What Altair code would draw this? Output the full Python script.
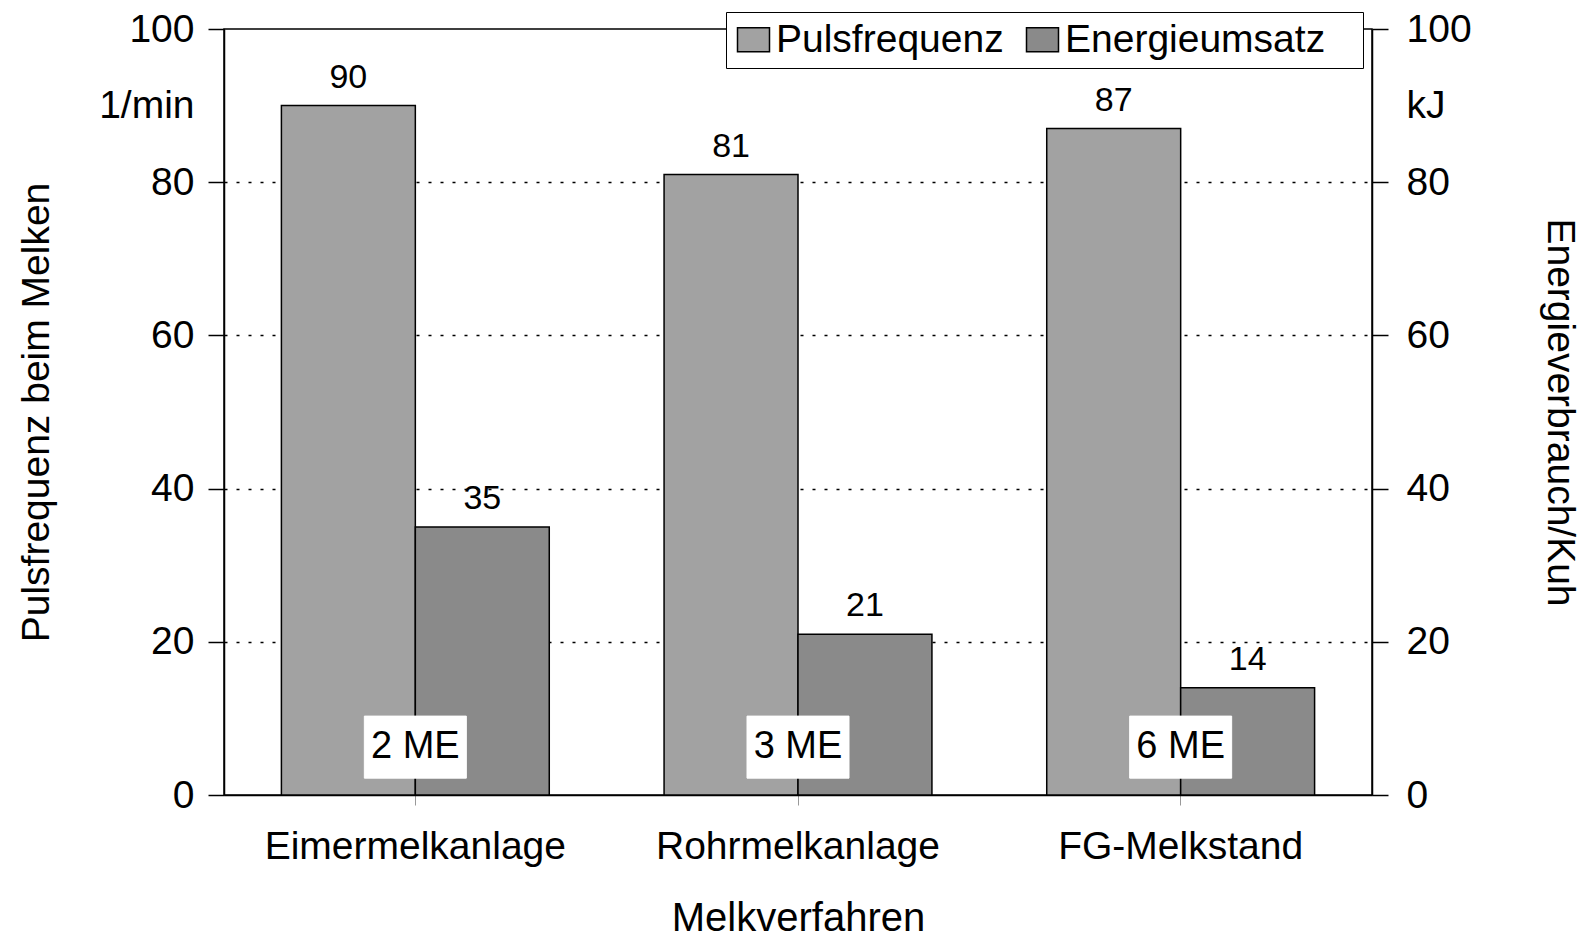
import altair as alt
import pandas as pd

# ---- data ----
categories = ["Eimermelkanlage", "Rohrmelkanlage", "FG-Melkstand"]
series = ["Pulsfrequenz", "Energieumsatz"]
puls = [90, 81, 87]          # 1/min
energie = [35, 21, 14]       # kJ
me_labels = ["2 ME", "3 ME", "6 ME"]
me_pos = [6.3, 6.3, 6.3]     # vertical position of the ME labels
box_lo = [2.2, 2.2, 2.2]
box_hi = [10.3, 10.3, 10.3]
left_ticks = [0, 20, 40, 60, 80, 90, 100]

rows = []
for c, p, e in zip(categories, puls, energie):
    rows.append({"Verfahren": c, "Serie": series[0], "Wert": p})
    rows.append({"Verfahren": c, "Serie": series[1], "Wert": e})
df = pd.DataFrame(rows)
df_me = pd.DataFrame({"Verfahren": categories, "label": me_labels,
                      "mid": me_pos, "lo": box_lo, "hi": box_hi})

FONT = "Liberation Sans"
FS = 39

x_enc = alt.X("Verfahren:N", sort=categories,
              scale=alt.Scale(paddingInner=0.3, paddingOuter=0.15),
              axis=alt.Axis(title="Melkverfahren", labelAngle=0, tickSize=10,
                            tickColor="#999999", tickWidth=1, labelPadding=22,
                            titlePadding=32, titleFontSize=40,
                            domainWidth=1.5, labelLimit=0))
xo_enc = alt.XOffset("Serie:N", sort=series,
                     scale=alt.Scale(paddingInner=0, paddingOuter=0))

left_axis = alt.Axis(
    title="Pulsfrequenz beim Melken", orient="left", values=left_ticks,
    labelExpr="datum.value == 90 ? '1/min' : datum.label",
    tickSize=16, labelPadding=14, titlePadding=42, labelLimit=0,
    grid=True, gridColor="black", gridDash=[3, 9], gridWidth=1.5,
    gridOpacity={"condition": {"test": "datum.value > 0 && datum.value < 90", "value": 1}, "value": 0},
    tickOpacity={"condition": {"test": "datum.value == 90", "value": 0}, "value": 1},
)
right_axis = alt.Axis(
    title="Energieverbrauch/Kuh", orient="right", values=left_ticks,
    labelExpr="datum.value == 90 ? 'kJ' : datum.label",
    tickSize=16, labelPadding=18, titlePadding=68, titleAngle=90, grid=False,
    labelLimit=0,
    tickOpacity={"condition": {"test": "datum.value == 90", "value": 0}, "value": 1},
)
yscale = alt.Scale(domain=[0, 100], nice=False)

bars = alt.Chart(df).mark_bar(stroke="black", strokeWidth=1.5).encode(
    x=x_enc, xOffset=xo_enc,
    y=alt.Y("Wert:Q", scale=yscale, axis=left_axis),
    color=alt.Color("Serie:N", sort=series,
                    scale=alt.Scale(domain=series, range=["#a2a2a2", "#8a8a8a"]),
                    legend=alt.Legend(title=None, orient="none", legendX=502, legendY=-17,
                                      direction="horizontal", labelFontSize=FS,
                                      labelFont=FONT, labelColor="black", labelLimit=0,
                                      labelExpr="datum.label == 'Energieumsatz' ? datum.label + '\u2800' : datum.label",
                                      symbolType="M-1,-0.75H1V0.75H-1Z", symbolSize=1024,
                                      symbolStrokeColor="black", symbolStrokeWidth=1.5,
                                      strokeColor="black", fillColor="white",
                                      padding=8, columnPadding=19, labelOffset=3)),
)

values = alt.Chart(df).mark_text(baseline="bottom", dy=-11, fontSize=34,
                                 font=FONT, color="black").encode(
    x=x_enc, xOffset=xo_enc,
    y=alt.Y("Wert:Q", scale=yscale, axis=left_axis),
    text=alt.Text("Wert:Q"),
)

boxes = alt.Chart(df_me).mark_bar(width=102, fill="white", stroke="white").encode(
    x=x_enc,
    y=alt.Y("lo:Q", scale=yscale, axis=left_axis),
    y2="hi:Q",
)

inner = alt.layer(bars, values, boxes)

me_text = alt.Chart(df_me).mark_text(fontSize=38, font=FONT, color="black",
                                     baseline="middle").encode(
    x=x_enc,
    y=alt.Y("mid:Q", scale=yscale, axis=right_axis),
    text="label:N",
)

chart = alt.layer(inner, me_text).resolve_scale(y="independent").properties(
    width=1148, height=766,
    padding={"left": 9, "top": 2, "right": 3, "bottom": 0},
).configure(font=FONT).configure_axis(
    labelFont=FONT, titleFont=FONT, labelFontSize=FS, titleFontSize=FS,
    titleFontWeight="normal", labelColor="black", titleColor="black",
    domainColor="black", tickColor="black", domainWidth=1.5, tickWidth=1.5,
).configure_view(stroke="black", strokeWidth=1.5)

chart.save("out.html", embed_options={"renderer": "svg", "actions": False})
